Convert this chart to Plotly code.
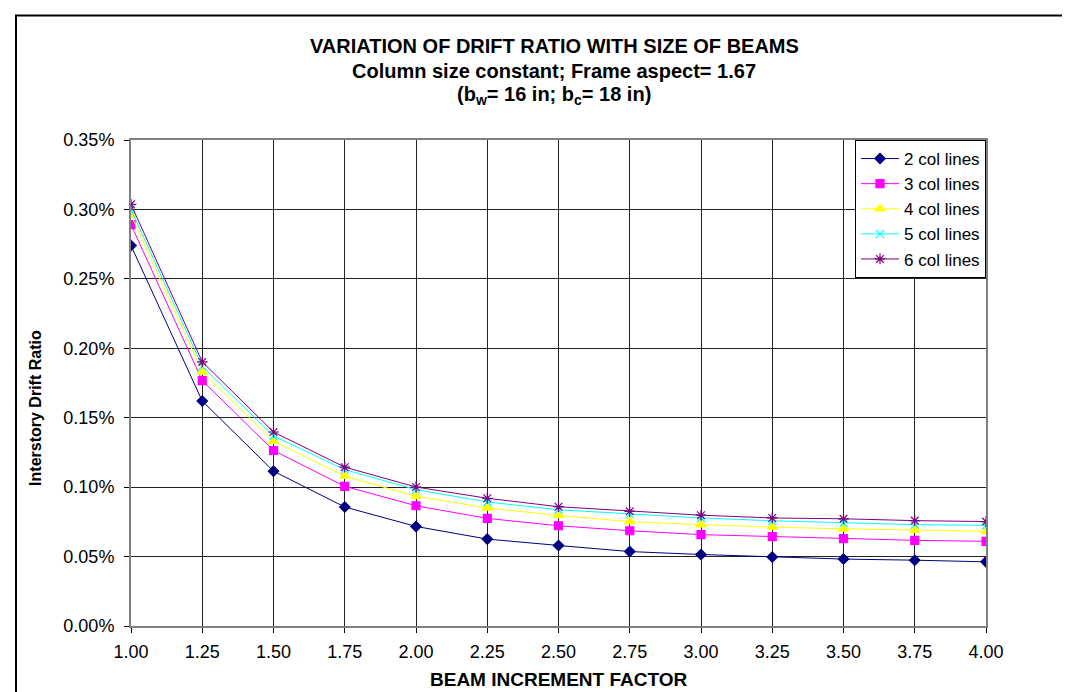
import plotly.graph_objects as go

# beam increment factor
factor = [1.00, 1.25, 1.50, 1.75, 2.00, 2.25, 2.50, 2.75, 3.00, 3.25, 3.50, 3.75, 4.00]

# interstory drift ratio, in percent
col2 = [0.274, 0.162, 0.1115, 0.0857, 0.0717, 0.0626, 0.0580, 0.0536, 0.0515, 0.0497, 0.0482, 0.0474, 0.0462]
col3 = [0.289, 0.1767, 0.1264, 0.1006, 0.0866, 0.0775, 0.0722, 0.0686, 0.0658, 0.0643, 0.0629, 0.0617, 0.0610]
col4 = [0.296, 0.183, 0.1332, 0.1079, 0.0934, 0.0850, 0.0796, 0.0752, 0.0730, 0.0712, 0.0700, 0.0690, 0.0682]
col5 = [0.300, 0.187, 0.1368, 0.1126, 0.0982, 0.0893, 0.0837, 0.0806, 0.0778, 0.0758, 0.0742, 0.0730, 0.0725]
col6 = [0.3037, 0.1902, 0.1397, 0.1144, 0.1001, 0.0920, 0.0859, 0.0826, 0.0798, 0.0778, 0.0772, 0.0759, 0.0752]

series = [
    ("2 col lines", col2, "#000080", "diamond", 8),
    ("3 col lines", col3, "#FF00FF", "square", 8),
    ("4 col lines", col4, "#FFFF00", "triangle-up", 9),
    ("5 col lines", col5, "#00FFFF", "x-thin-open", 8),
    ("6 col lines", col6, "#800080", "asterisk-open", 9),
]

FONT = "Arial, Liberation Sans, sans-serif"

fig = go.Figure()
for name, vals, color, symbol, size in series:
    fig.add_trace(go.Scatter(
        x=factor,
        y=[v / 100 for v in vals],
        mode="lines+markers",
        name=name,
        legendgroup=name,
        line=dict(color=color, width=1),
        marker=dict(symbol=symbol, size=size, color=color,
                    line=dict(color=color, width=1.2)),
    ))

axis_common = dict(
    showgrid=True, gridcolor="#222222", gridwidth=1,
    showline=True, linecolor="#808080", linewidth=2, mirror=True,
    ticks="outside", ticklen=5, tickcolor="#000000",
    tickfont=dict(family=FONT, size=18, color="#000000"),
    zeroline=False,
)

fig.update_xaxes(range=[1, 4], dtick=0.25, tick0=1, tickformat=".2f",
                 ticklabelstandoff=3, **axis_common)
fig.update_yaxes(range=[0, 0.0035], dtick=0.0005, tickformat=".2%",
                 ticklabelstandoff=6, **axis_common)

title_lines = [
    "VARIATION OF DRIFT RATIO WITH SIZE OF BEAMS",
    "Column size constant; Frame aspect= 1.67",
    "(b<sub>w</sub>= 16 in; b<sub>c</sub>= 18 in)",
]
annotations = []
for i, t in enumerate(title_lines):
    annotations.append(dict(
        text="<b>" + t + "</b>", x=0.495, y=1.194 - i * 0.0515,
        xref="paper", yref="paper", xanchor="center", yanchor="middle",
        showarrow=False, font=dict(family=FONT, size=20, color="#000000"),
    ))
annotations.append(dict(
    text="<b>BEAM INCREMENT FACTOR</b>", x=0.5, y=-0.111,
    xref="paper", yref="paper", xanchor="center", yanchor="middle",
    showarrow=False, font=dict(family=FONT, size=19, color="#000000"),
))
annotations.append(dict(
    text="<b>Interstory Drift Ratio</b>", x=-0.111, y=0.449, textangle=-90,
    xref="paper", yref="paper", xanchor="center", yanchor="middle",
    showarrow=False, font=dict(family=FONT, size=16, color="#000000"),
))

fig.update_layout(
    width=1070, height=692,
    margin=dict(l=123, r=92, t=132, b=74),
    paper_bgcolor="white", plot_bgcolor="white",
    showlegend=True,
    legend=dict(
        x=1, y=1, xanchor="right", yanchor="top",
        bgcolor="white", bordercolor="#000000", borderwidth=1,
        font=dict(family=FONT, size=17, color="#000000"),
        tracegroupgap=0, traceorder="grouped",
        itemwidth=38,
    ),
    annotations=annotations,
    shapes=[dict(
        type="rect", xref="paper", yref="paper",
        x0=-0.1345, x1=1.13, y0=-0.2, y1=1.256,
        line=dict(color="#000000", width=2), fillcolor="rgba(0,0,0,0)",
    )],
)

fig.write_html("out.html")
